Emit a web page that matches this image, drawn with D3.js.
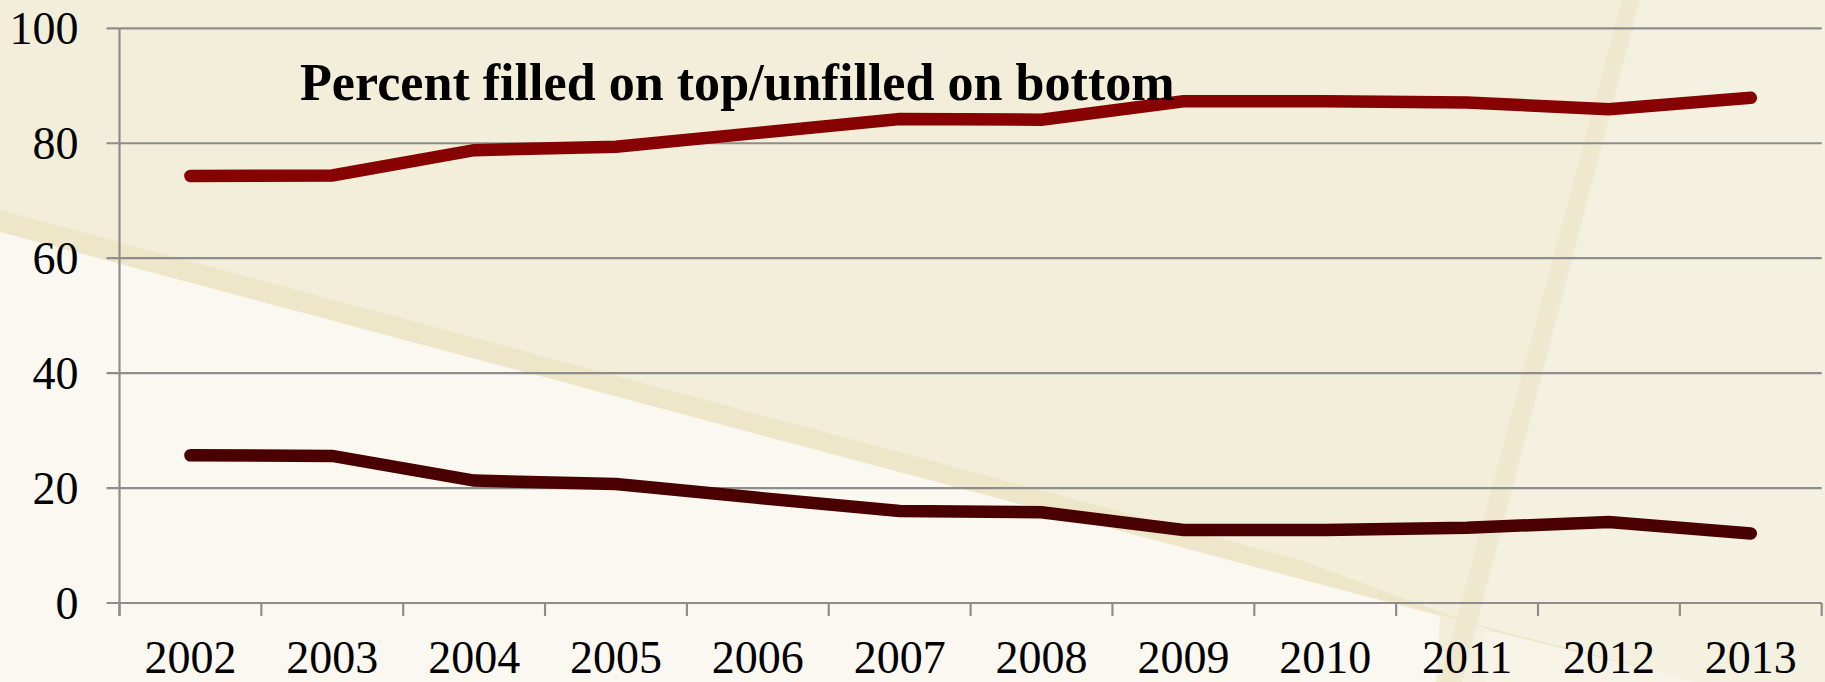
<!DOCTYPE html>
<html>
<head>
<meta charset="utf-8">
<script src="https://cdn.jsdelivr.net/npm/d3@7"></script>
<style>
  html, body { margin: 0; padding: 0; background: #f2ecd6; }
  svg { display: block; }
</style>
</head>
<body>
<svg id="chart" width="1825" height="682"></svg>
<script>
// ---- data ----
const years = ["2002","2003","2004","2005","2006","2007","2008","2009","2010","2011","2012","2013"];
const filled =   [74.3, 74.4, 78.8, 79.4, 81.8, 84.2, 84.1, 87.3, 87.3, 87.1, 85.9, 87.9];
const unfilled = [25.7, 25.6, 21.3, 20.7, 18.3, 16.0, 15.8, 12.7, 12.7, 13.1, 14.1, 12.1];
const yTicks = [0, 20, 40, 60, 80, 100];
const titleText = "Percent filled on top/unfilled on bottom";

(function () {
const W = 1825, H = 682;
const svg = d3.select("#chart");

// ---- background (parchment) ----
const bg = svg.append("g");
bg.append("rect").attr("width", W).attr("height", H).attr("fill", "#f3eed9");
bg.append("path").attr("d", "M1636,0 L1825,0 L1825,682 L1456,682 Z").attr("fill", "#f5f1e1");
bg.append("path").attr("d", "M1622,0 L1640,0 L1462,682 L1440,682 Z").attr("fill", "#ece4c6").attr("opacity", 0.6);
bg.append("path").attr("d", "M0,210 L0,232 L1300,579 L1700,682 L1630,682 L1300,560 Z").attr("fill", "#ebe2c2").attr("opacity", 0.7);
bg.append("path").attr("d", "M0,232 L1300,579 L1440,616 L1436,682 L0,682 Z").attr("fill", "#faf8f1");
bg.append("path").attr("d", "M1495,632 L1700,682 L1485,682 L1482,645 Q1484,630 1495,632 Z").attr("fill", "#f7f3e6");

// ---- scales ----
const pLeft = 119.5, pRight = 1821.7, pTop = 28.3, pBottom = 603;
const x = d3.scaleBand().domain(years).range([pLeft, pRight]).paddingInner(0).paddingOuter(0);
const y = d3.scaleLinear().domain([0, 100]).range([pBottom, pTop]);
const cx = d => x(d) + x.bandwidth() / 2;

const grid = "#8d8d8d";

svg.append("g").selectAll("line").data(yTicks).join("line")
  .attr("x1", pLeft - 13).attr("x2", pRight)
  .attr("y1", d => y(d)).attr("y2", d => y(d))
  .attr("stroke", grid).attr("stroke-width", 2.2);

svg.append("line").attr("x1", pLeft).attr("x2", pLeft)
  .attr("y1", y(100)).attr("y2", pBottom + 13)
  .attr("stroke", grid).attr("stroke-width", 2.2);

const bounds = years.map(d => x(d)).concat([pRight]);
svg.append("g").selectAll("line").data(bounds).join("line")
  .attr("x1", d => d).attr("x2", d => d)
  .attr("y1", pBottom).attr("y2", pBottom + 13)
  .attr("stroke", grid).attr("stroke-width", 2.2);

const yAxis = svg.append("g").attr("transform", `translate(${pLeft - 41},0)`)
  .call(d3.axisLeft(y).tickValues(yTicks).tickSize(0).tickPadding(0).tickFormat(d3.format("d")));
yAxis.select(".domain").remove();
yAxis.selectAll("text").attr("font-family", "'Liberation Serif', serif").attr("font-size", 46).attr("fill", "#000").attr("dy", "0.33em");

const xAxis = svg.append("g").attr("transform", `translate(0,${pBottom})`)
  .call(d3.axisBottom(x).tickSize(0).tickPadding(0));
xAxis.select(".domain").remove();
xAxis.selectAll("text").attr("font-family", "'Liberation Serif', serif").attr("font-size", 46).attr("fill", "#000")
  .attr("dy", null).attr("y", 70);

// ---- lines ----
const line = d3.line().x((d, i) => cx(years[i])).y(d => y(d));
svg.append("path").datum(unfilled).attr("d", line)
  .attr("fill", "none").attr("stroke", "#4a0000").attr("stroke-width", 12.5)
  .attr("stroke-linecap", "round").attr("stroke-linejoin", "miter");
svg.append("path").datum(filled).attr("d", line)
  .attr("fill", "none").attr("stroke", "#870202").attr("stroke-width", 12.5)
  .attr("stroke-linecap", "round").attr("stroke-linejoin", "miter");

// ---- title ----
const t = svg.append("text").attr("x", 300).attr("y", 100)
  .attr("font-family", "'Liberation Serif', serif").attr("font-weight", "bold")
  .attr("font-size", 52).attr("fill", "#000").text(titleText);
const tl = t.node().getComputedTextLength();
if (tl > 0) t.attr("font-size", 52 * 875 / tl);
})();
</script>
</body>
</html>
